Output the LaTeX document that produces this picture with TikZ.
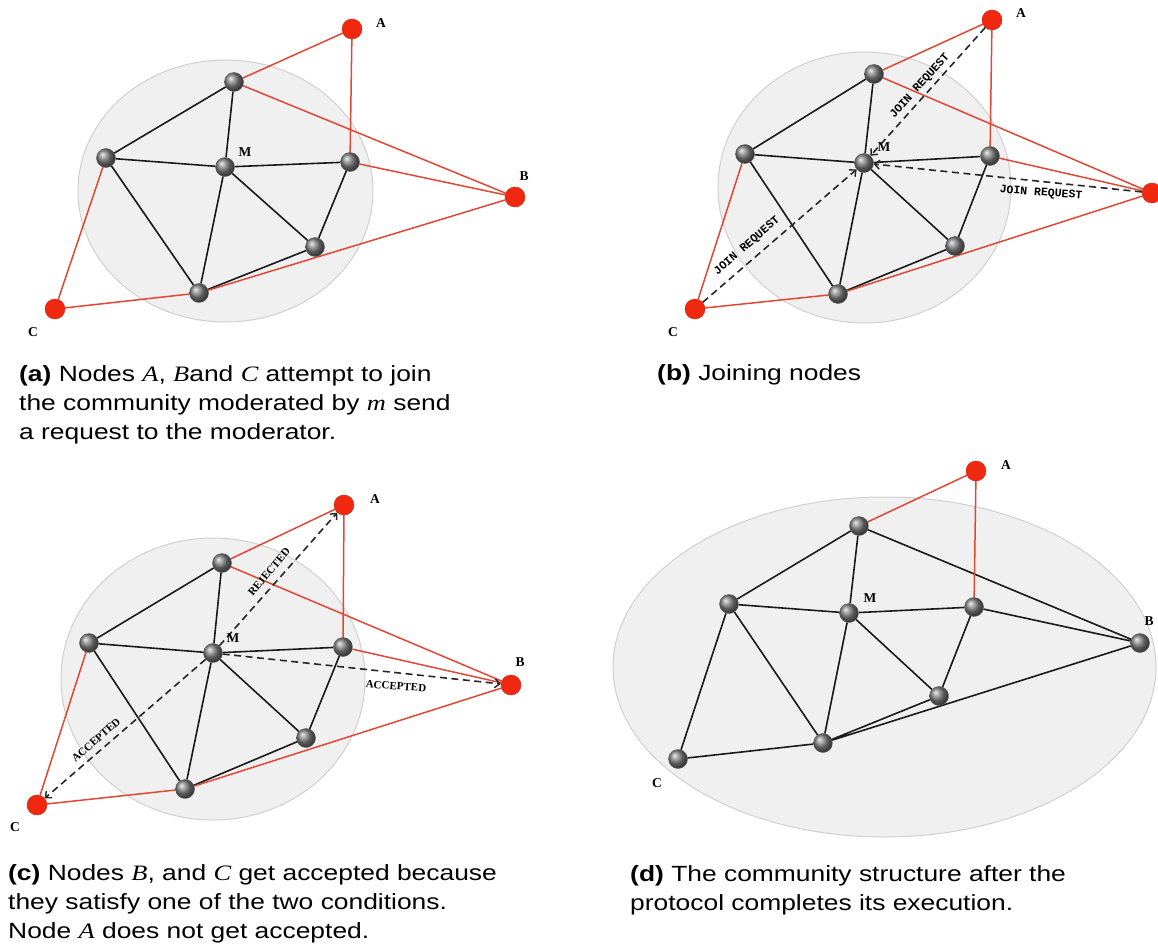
\documentclass[tikz,border=0pt]{standalone}
\usepackage{fontspec}
\usetikzlibrary{arrows.meta}
\newfontfamily\capfont[FakeStretch=1.2]{Liberation Sans}
\newfontfamily\capmath[FakeStretch=1.2]{Liberation Serif}
\newfontfamily\labfont{Liberation Serif}
\newfontfamily\reqfont{Liberation Mono}
\newcommand{\mvar}[1]{{\capmath\itshape #1}}
\pgfdeclarelayer{back}
\pgfdeclarelayer{mid}
\pgfsetlayers{back,mid,main}
\definecolor{nodered}{RGB}{240,40,15}
\definecolor{edgered}{RGB}{222,72,52}
\definecolor{commfill}{RGB}{240,240,240}
\definecolor{commedge}{RGB}{208,208,208}
\tikzset{
  gnode/.style={circle, inner sep=0pt, minimum size=19pt, shading=ball, ball color=black!50, draw=black!65, line width=0.4pt},
  rnode/.style={circle, inner sep=0pt, minimum size=20pt, fill=nodered, draw=nodered!85!black, line width=0.4pt},
  link/.style={draw=black!90, line width=1.6pt},
  rlink/.style={draw=edgered, line width=1.5pt},
  msg/.style={draw=black!85, line width=1.6pt, dash pattern=on 7pt off 4.5pt,
    -{Straight Barb[length=5pt,width=9pt,line width=1.4pt]}},
  comm/.style={fill=commfill, draw=commedge, line width=1pt},
  lab/.style={font=\labfont\bfseries\fontsize{13.5}{13.5}\selectfont, inner sep=0pt},
  req/.style={font=\reqfont\bfseries\fontsize{11.5}{11.5}\selectfont, inner sep=0pt},
  ans/.style={font=\labfont\bfseries\fontsize{11}{11}\selectfont, inner sep=0pt},
  capline/.style={font=\capfont\fontsize{22}{29}\selectfont, anchor=base west, inner sep=0pt},
}
\begin{document}
\begin{tikzpicture}[x=1pt, y=-1pt]
\useasboundingbox (0,0) rectangle (1158,947);
\clip (0,0) rectangle (1158,947);

% ---------- (a) join attempts ----------
\node[rnode] (aA) at (352,29) {};
\node[gnode] (aT) at (234,82) {};
\node[gnode] (aL) at (106,158) {};
\node[gnode] (aM) at (225,167) {};
\node[gnode] (aR) at (350,162) {};
\node[gnode] (aQ) at (315,247) {};
\node[gnode] (aD) at (199,293) {};
\node[rnode] (aB) at (515,197) {};
\node[rnode] (aC) at (55,309) {};
\node[lab] (aAl) at (381,23) {A};
\node[lab] (aMl) at (245,152) {M};
\node[lab] (aBl) at (524,176) {B};
\node[lab] (aCl) at (33,332) {C};
\begin{pgfonlayer}{back}
  \path[comm] (225.5,191) ellipse [x radius=147.5, y radius=131];
\end{pgfonlayer}
\begin{pgfonlayer}{mid}
  \draw[link] (aT)--(aL) (aT)--(aM) (aL)--(aM) (aM)--(aR) (aL)--(aD)
              (aM)--(aD) (aM)--(aQ) (aR)--(aQ) (aQ)--(aD);
  \draw[rlink] (aA)--(aT) (aA)--(aR) (aT)--(aB) (aR)--(aB) (aD)--(aB)
               (aC)--(aL) (aC)--(aD);
\end{pgfonlayer}

% ---------- (b) join requests ----------
\node[rnode] (bA) at (992,20) {};
\node[gnode] (bT) at (874,74) {};
\node[gnode] (bL) at (745,154) {};
\node[gnode] (bM) at (864,163) {};
\node[gnode] (bR) at (990,156) {};
\node[gnode] (bQ) at (955,246) {};
\node[gnode] (bD) at (838,294) {};
\node[rnode] (bB) at (1152,193) {};
\node[rnode] (bC) at (695,309) {};
\node[lab] (bAl) at (1021,13) {A};
\node[lab] (bMl) at (884,147) {M};
\node[lab] (bBl) at (1164,172) {B};
\node[lab] (bCl) at (673,332) {C};
\begin{pgfonlayer}{back}
  \path[comm] (864.5,187.5) ellipse [x radius=146.5, y radius=135.5];
\end{pgfonlayer}
\begin{pgfonlayer}{mid}
  \draw[link] (bT)--(bL) (bT)--(bM) (bL)--(bM) (bM)--(bR) (bL)--(bD)
              (bM)--(bD) (bM)--(bQ) (bR)--(bQ) (bQ)--(bD);
  \draw[rlink] (bA)--(bT) (bA)--(bR) (bT)--(bB) (bR)--(bB) (bD)--(bB)
               (bC)--(bL) (bC)--(bD);
  \draw[msg] (bA) -- (bM);
  \draw[msg] (bC) -- (bM);
  \draw[msg] (bB) -- (bM);
\end{pgfonlayer}
\node[req, rotate=48] (bqa) at (920,86) {JOIN REQUEST};
\node[req, rotate=41] (bqc) at (747,246) {JOIN REQUEST};
\node[req, rotate=-4] (bqb) at (1041,193) {JOIN REQUEST};

% ---------- (c) moderator replies ----------
\node[rnode] (cA) at (344,505) {};
\node[gnode] (cT) at (222,563) {};
\node[gnode] (cL) at (89,643) {};
\node[gnode] (cM) at (213,653) {};
\node[gnode] (cR) at (343,647) {};
\node[gnode] (cQ) at (306,738) {};
\node[gnode] (cD) at (185,789) {};
\node[rnode] (cB) at (511,685) {};
\node[rnode] (cC) at (37,805) {};
\node[lab] (cAl) at (375,499) {A};
\node[lab] (cMl) at (233,638) {M};
\node[lab] (cBl) at (520,662) {B};
\node[lab] (cCl) at (15,827) {C};
\begin{pgfonlayer}{back}
  \path[comm] (213,679) ellipse [x radius=152, y radius=141];
\end{pgfonlayer}
\begin{pgfonlayer}{mid}
  \draw[link] (cT)--(cL) (cT)--(cM) (cL)--(cM) (cM)--(cR) (cL)--(cD)
              (cM)--(cD) (cM)--(cQ) (cR)--(cQ) (cQ)--(cD);
  \draw[rlink] (cA)--(cT) (cA)--(cR) (cT)--(cB) (cR)--(cB) (cD)--(cB)
               (cC)--(cL) (cC)--(cD);
  \draw[msg] (cM) -- (cA);
  \draw[msg] (cM) -- (cB);
  \draw[msg] (cM) -- (cC);
\end{pgfonlayer}
\node[ans, rotate=50] (cra) at (269,572) {REJECTED};
\node[ans, rotate=-4] (cab) at (396,686) {ACCEPTED};
\node[ans, rotate=41] (cac) at (96,740) {ACCEPTED};

% ---------- (d) resulting community ----------
\node[rnode] (dA) at (976,471) {};
\node[gnode] (dT) at (859,526) {};
\node[gnode] (dL) at (729,604) {};
\node[gnode] (dM) at (849,613) {};
\node[gnode] (dR) at (974,607) {};
\node[gnode] (dQ) at (939,696) {};
\node[gnode] (dD) at (823,743) {};
\node[gnode] (dB) at (1140,643) {};
\node[gnode] (dC) at (678,759) {};
\node[lab] (dAl) at (1006,465) {A};
\node[lab] (dMl) at (870,598) {M};
\node[lab] (dBl) at (1149,621) {B};
\node[lab] (dCl) at (657,783) {C};
\begin{pgfonlayer}{back}
  \path[comm] (884.5,667) ellipse [x radius=271.5, y radius=170];
\end{pgfonlayer}
\begin{pgfonlayer}{mid}
  \draw[link] (dT)--(dL) (dT)--(dM) (dT)--(dB) (dL)--(dM) (dM)--(dR)
              (dR)--(dB) (dL)--(dC) (dL)--(dD) (dM)--(dD) (dM)--(dQ)
              (dR)--(dQ) (dQ)--(dD) (dD)--(dB) (dD)--(dC);
  \draw[rlink] (dA)--(dT) (dA)--(dR);
\end{pgfonlayer}

% ---------- captions ----------
\node[capline] (capa1) at (19,381) {\textbf{(a)} Nodes \mvar{A}, \mvar{B}and \mvar{C} attempt to join};
\node[capline] (capa2) at (19,410) {the community moderated by \mvar{m} send};
\node[capline] (capa3) at (19,439) {a request to the moderator.};
\node[capline] (capb1) at (657,380) {\textbf{(b)} Joining nodes};
\node[capline] (capc1) at (8,880) {\textbf{(c)} Nodes \mvar{B}, and \mvar{C} get accepted because};
\node[capline] (capc2) at (8,909) {they satisfy one of the two conditions.};
\node[capline] (capc3) at (8,938) {Node \mvar{A} does not get accepted.};
\node[capline] (capd1) at (630,881) {\textbf{(d)} The community structure after the};
\node[capline] (capd2) at (630,910) {protocol completes its execution.};
\end{tikzpicture}
\end{document}
